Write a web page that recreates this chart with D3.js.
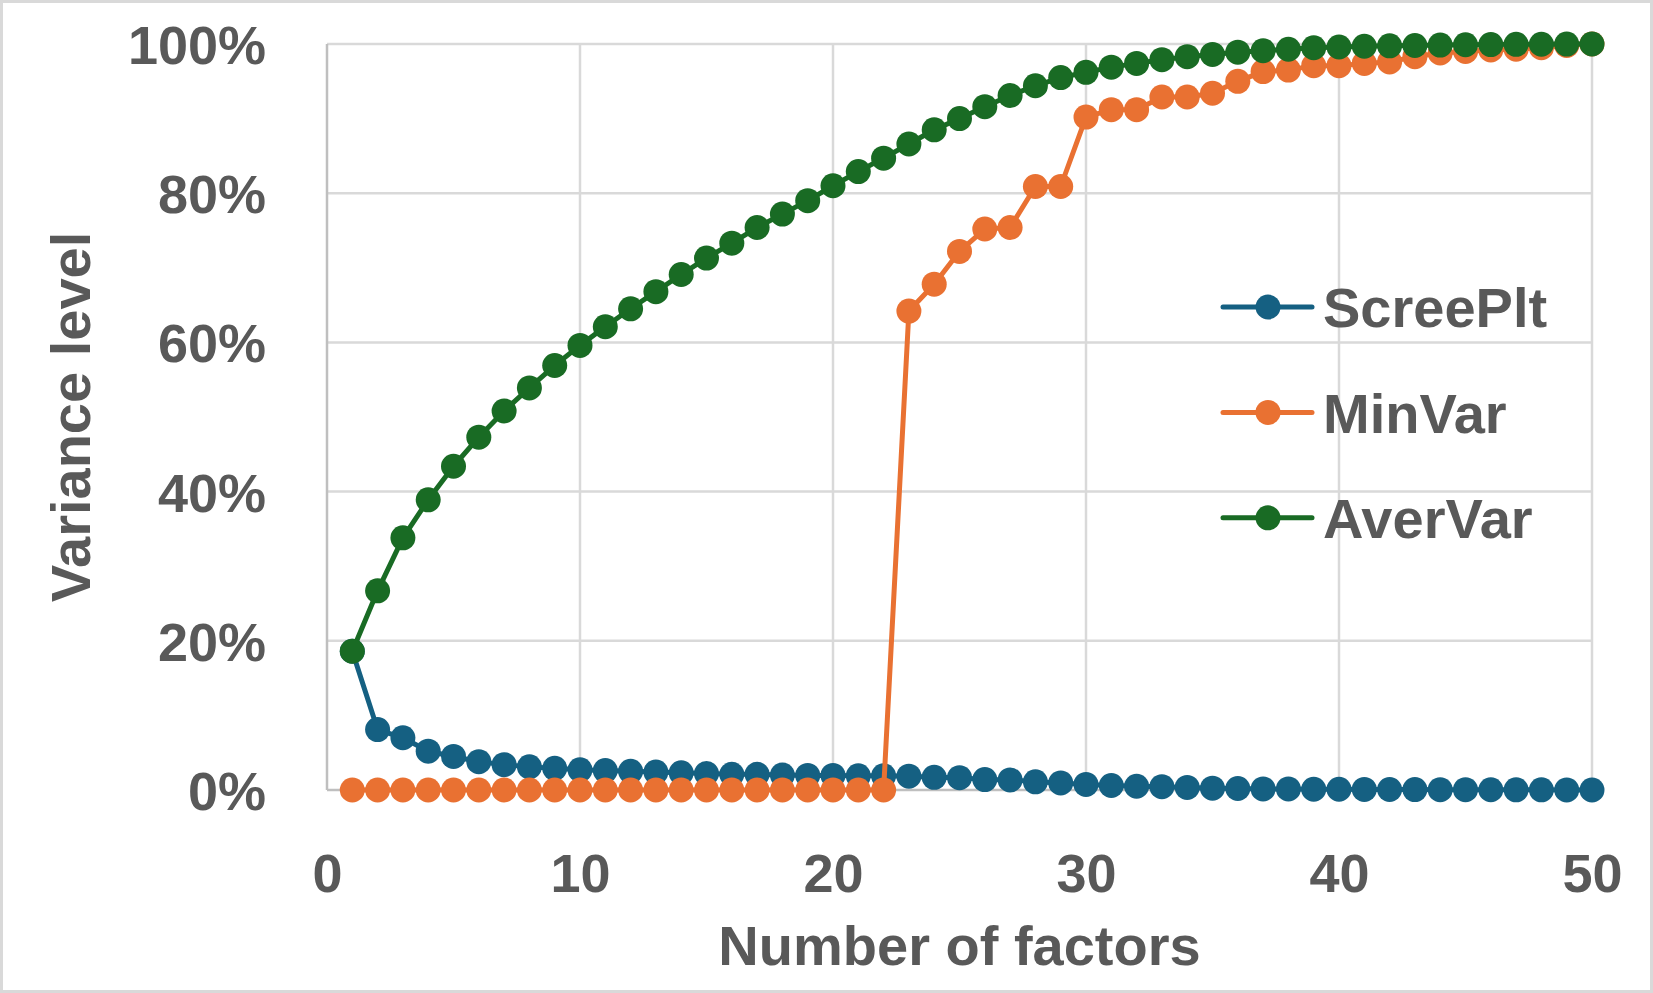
<!DOCTYPE html>
<html>
<head>
<meta charset="utf-8">
<script src="https://cdn.jsdelivr.net/npm/d3@7"></script>
<style>
	html, body { margin: 0; padding: 0; background: #fff; }
	text { font-family: "Liberation Sans", Arial, sans-serif; font-weight: bold; fill: #595959; }
</style>
</head>
<body>
<div id="chart"></div>
<script>
const factors = d3.range(1, 51);

const screePlt = [18.6, 8.1, 7.0, 5.2, 4.5, 3.8, 3.4, 3.1, 2.9, 2.7, 2.6, 2.5, 2.4, 2.3, 2.2, 2.1, 2.1, 2.0, 1.95, 1.95,
	1.9, 1.9, 1.85, 1.7, 1.65, 1.4, 1.35, 1.1, 0.95, 0.75, 0.6, 0.5, 0.45, 0.35, 0.25, 0.2, 0.15, 0.15, 0.1, 0.1,
	0.08, 0.07, 0.06, 0.05, 0.04, 0.03, 0.02, 0.02, 0.01, 0.0];

const minVar = [0, 0, 0, 0, 0, 0, 0, 0, 0, 0, 0, 0, 0, 0, 0, 0, 0, 0, 0, 0, 0, 0,
	64.2, 67.8, 72.2, 75.2, 75.4, 80.9, 80.9, 90.2, 91.2, 91.2, 92.9, 92.9, 93.4, 95.0, 96.3, 96.5, 97.1, 97.1,
	97.4, 97.6, 98.3, 98.8, 99.0, 99.2, 99.3, 99.5, 99.8, 100];

const averVar = [18.6, 26.7, 33.8, 38.9, 43.4, 47.3, 50.8, 53.9, 56.9, 59.6, 62.1, 64.5, 66.8, 69.1, 71.3, 73.3, 75.4, 77.2, 79.0, 81.0,
	82.9, 84.7, 86.6, 88.5, 90.0, 91.6, 93.1, 94.4, 95.5, 96.2, 96.9, 97.4, 97.9, 98.3, 98.6, 98.9, 99.1, 99.3, 99.5, 99.6,
	99.7, 99.75, 99.8, 99.85, 99.9, 99.92, 99.95, 99.97, 99.99, 100];

const seriesNames = ["ScreePlt", "MinVar", "AverVar"];
const seriesColors = ["#156082", "#E97132", "#196B24"];
const xTicks = [0, 10, 20, 30, 40, 50];
const yTicks = [0, 0.2, 0.4, 0.6, 0.8, 1];

const WIDTH = 1653;
const HEIGHT = 993;
const FONT_TICK = 54;
const FONT_TITLE = 56;
const RADIUS = 12.5;
const LINE_W = 5;

const margin = { top: 44, left: 327, right: 61, bottom: 203 };

const series = [screePlt, minVar, averVar].map((vals, i) => ({
	name: seriesNames[i],
	color: seriesColors[i],
	points: vals.map((v, j) => ({ x: factors[j], y: v / 100 }))
}));

const svg = d3.select("#chart").append("svg")
	.attr("width", WIDTH)
	.attr("height", HEIGHT);

// outer chart border
svg.append("rect")
	.attr("x", 1.5).attr("y", 1.5)
	.attr("width", WIDTH - 3).attr("height", HEIGHT - 3)
	.attr("fill", "#fff")
	.attr("stroke", "#d9d9d9")
	.attr("stroke-width", 3);

const x = d3.scaleLinear()
	.domain([0, 50])
	.range([margin.left, WIDTH - margin.right]);

const y = d3.scaleLinear()
	.domain([0, 1])
	.range([HEIGHT - margin.bottom, margin.top]);

// gridlines
svg.append("g")
	.selectAll("line")
	.data(yTicks.filter(d => d > 0))
	.enter()
	.append("line")
	.attr("x1", x(0)).attr("x2", x(50))
	.attr("y1", d => y(d)).attr("y2", d => y(d))
	.attr("stroke", "#d9d9d9")
	.attr("stroke-width", 2.5);

svg.append("g")
	.selectAll("line")
	.data(xTicks.filter(d => d > 0))
	.enter()
	.append("line")
	.attr("x1", d => x(d)).attr("x2", d => x(d))
	.attr("y1", y(0)).attr("y2", y(1))
	.attr("stroke", "#d9d9d9")
	.attr("stroke-width", 2.5);

// axis lines
svg.append("line")
	.attr("x1", x(0)).attr("x2", x(0))
	.attr("y1", y(0)).attr("y2", y(1))
	.attr("stroke", "#bfbfbf")
	.attr("stroke-width", 2.5);

svg.append("line")
	.attr("x1", x(0)).attr("x2", x(50))
	.attr("y1", y(0)).attr("y2", y(0))
	.attr("stroke", "#bfbfbf")
	.attr("stroke-width", 2.5);

// axes (labels only)
const axisY = d3.axisLeft(y)
	.tickValues(yTicks)
	.tickSize(0)
	.tickPadding(61)
	.tickFormat(d3.format(".0%"));

svg.append("g")
	.attr("transform", "translate(" + x(0) + ",0)")
	.call(axisY)
	.call(g => g.select(".domain").remove())
	.call(g => g.selectAll("text")
		.attr("font-size", FONT_TICK)
		.attr("font-family", null)
		.attr("fill", null)
		.attr("dy", "0.36em"));

const axisX = d3.axisBottom(x)
	.tickValues(xTicks)
	.tickSize(0)
	.tickPadding(0)
	.tickFormat(d3.format("d"));

svg.append("g")
	.attr("transform", "translate(0," + y(0) + ")")
	.call(axisX)
	.call(g => g.select(".domain").remove())
	.call(g => g.selectAll("text")
		.attr("font-size", FONT_TICK)
		.attr("font-family", null)
		.attr("fill", null)
		.attr("y", 83)
		.attr("dy", "0.36em"));

// axis titles
svg.append("text")
	.attr("x", (x(0) + x(50)) / 2)
	.attr("y", 965)
	.attr("text-anchor", "middle")
	.attr("font-size", FONT_TITLE)
	.text("Number of factors");

svg.append("text")
	.attr("transform", "translate(70," + ((y(0) + y(1)) / 2) + ") rotate(-90)")
	.attr("text-anchor", "middle")
	.attr("dy", "0.36em")
	.attr("font-size", FONT_TITLE)
	.text("Variance level");

// series
const line = d3.line()
	.x(d => x(d.x))
	.y(d => y(d.y));

series.forEach(s => {
	const g = svg.append("g");
	g.append("path")
		.attr("d", line(s.points))
		.attr("fill", "none")
		.attr("stroke", s.color)
		.attr("stroke-width", LINE_W)
		.attr("stroke-linejoin", "round")
		.attr("stroke-linecap", "round");
	g.selectAll("circle")
		.data(s.points)
		.enter()
		.append("circle")
		.attr("cx", d => x(d.x))
		.attr("cy", d => y(d.y))
		.attr("r", RADIUS)
		.attr("fill", s.color);
});

// legend
const legend = svg.append("g")
	.selectAll("g")
	.data(series)
	.enter()
	.append("g")
	.attr("transform", (d, i) => "translate(1223," + (307 + i * 105.4) + ")");

legend.append("line")
	.attr("x1", 0).attr("x2", 89)
	.attr("stroke", d => d.color)
	.attr("stroke-width", LINE_W)
	.attr("stroke-linecap", "round");

legend.append("circle")
	.attr("cx", 45)
	.attr("r", RADIUS)
	.attr("fill", d => d.color);

legend.append("text")
	.attr("x", 100)
	.attr("dy", "0.36em")
	.attr("font-size", FONT_TITLE)
	.text(d => d.name);
</script>
</body>
</html>
